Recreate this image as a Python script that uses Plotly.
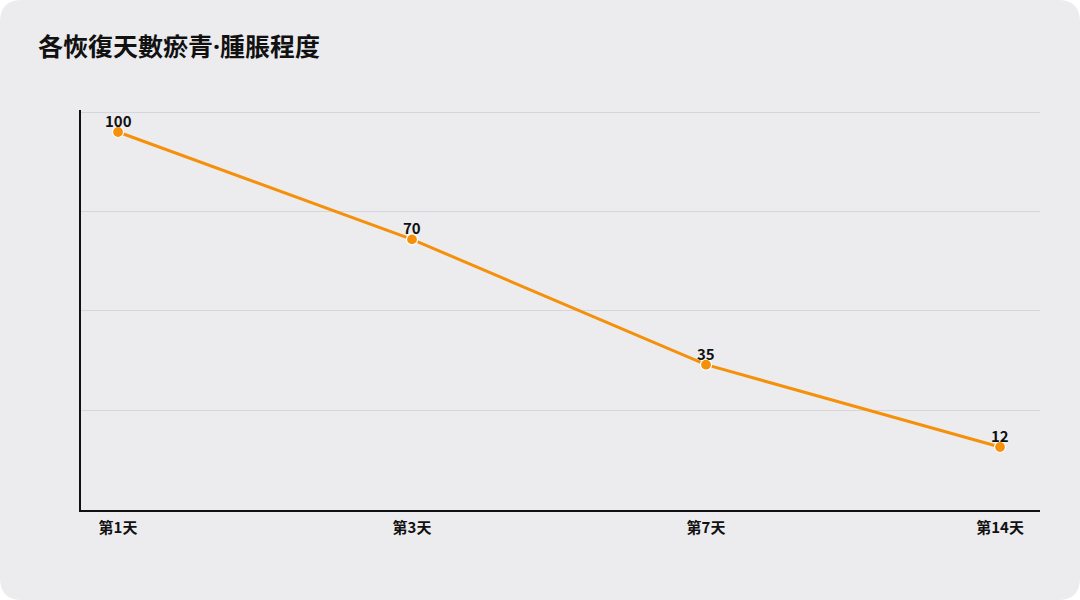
import numpy as np
import plotly.graph_objects as go

# 資料
days = ["第1天", "第3天", "第7天", "第14天"]
severity = [100, 70, 35, 12]

title_text = "各恢復天數瘀青<span style='font-family:Noto Sans'>·</span>腫脹程度"

W, H = 1080, 600
L, R, T, B = 81, 40, 110, 90
pw, ph = W - L - R, H - T - B

grid_lo, grid_hi = -5.55, 105.55
y_range = [grid_lo - 0.05, grid_hi + 0.6]
grid_vals = np.linspace(grid_lo, grid_hi, 5)

FONT = "Noto Sans CJK TC, Noto Sans, sans-serif"
ORANGE = "#f5900a"
CARD = "#ececef"

fig = go.Figure()
fig.add_trace(go.Scatter(
    x=days,
    y=severity,
    mode="lines+markers",
    line=dict(color=ORANGE, width=3),
    marker=dict(size=11, color=ORANGE, line=dict(color="white", width=1.2)),
    hoverinfo="x+y",
    showlegend=False,
    cliponaxis=False,
))

# 數值標籤
for d, v in zip(days, severity):
    fig.add_annotation(
        x=d, y=v, text=f"<b>{v}</b>", showarrow=False,
        yanchor="bottom", yshift=-1,
        font=dict(family=FONT, size=15, color="#111111"),
    )

# 圓角卡片背景（paper 座標）
def px_x(p):
    return (p - L) / pw

def px_y(p):
    return (H - B - p) / ph

r = 22
x0, x1 = px_x(0), px_x(W)
y0, y1 = px_y(0), px_y(H)
rx, ry = r / pw, r / ph
card_path = (
    f"M {x0 + rx},{y0} L {x1 - rx},{y0} Q {x1},{y0} {x1},{y0 - ry} "
    f"L {x1},{y1 + ry} Q {x1},{y1} {x1 - rx},{y1} "
    f"L {x0 + rx},{y1} Q {x0},{y1} {x0},{y1 + ry} "
    f"L {x0},{y0 - ry} Q {x0},{y0} {x0 + rx},{y0} Z"
)

fig.update_layout(
    width=W,
    height=H,
    margin=dict(l=L, r=R, t=T, b=B),
    paper_bgcolor="white",
    plot_bgcolor="rgba(0,0,0,0)",
    font=dict(family=FONT, color="#111111"),
    title=dict(
        text=f"<b>{title_text}</b>",
        x=38 / W, xanchor="left",
        y=1 - 47 / H, yanchor="middle",
        font=dict(family=FONT, size=25, color="#111111"),
    ),
    shapes=[dict(
        type="path", path=card_path, xref="paper", yref="paper",
        fillcolor=CARD, line=dict(width=0), layer="below",
    )],
    xaxis=dict(
        range=[-0.126, 3.136],
        showgrid=False,
        showline=True, linecolor="#111111", linewidth=2,
        ticks="", zeroline=False,
        tickfont=dict(family=FONT, size=15, color="#111111", weight="bold"),
        ticklabelstandoff=3,
    ),
    yaxis=dict(
        range=y_range,
        tickvals=grid_vals,
        showticklabels=False,
        showgrid=True, gridcolor="#d6d6da", gridwidth=1,
        showline=True, linecolor="#111111", linewidth=2,
        ticks="", zeroline=False,
    ),
)

fig.write_html(
    "out.html",
    config={"displayModeBar": False},
    post_script="document.body.style.margin='0';",
)
